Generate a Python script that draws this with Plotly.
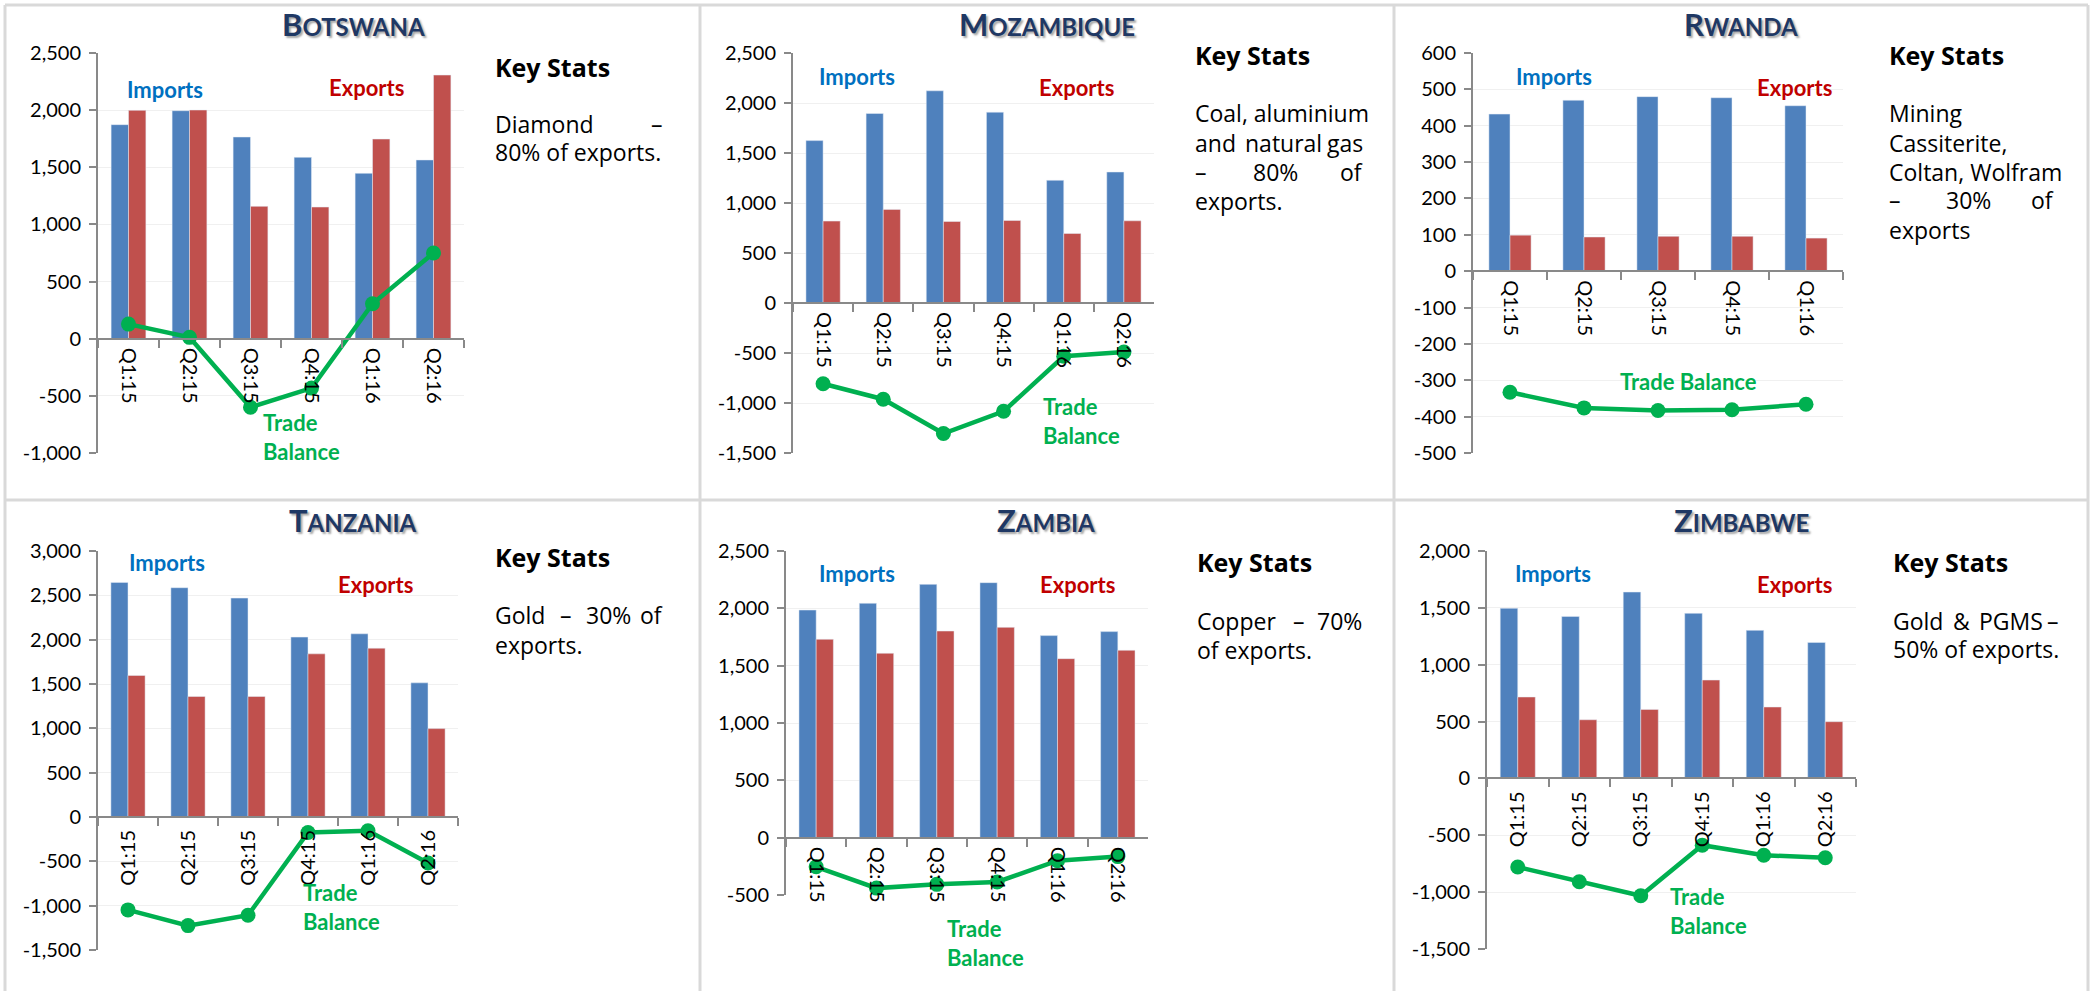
import plotly.graph_objects as go

W, H = 2098, 991

# ---------------- data ----------------
quarters6 = ["Q1:15", "Q2:15", "Q3:15", "Q4:15", "Q1:16", "Q2:16"]
quarters5 = ["Q1:15", "Q2:15", "Q3:15", "Q4:15", "Q1:16"]

botswana_imports = [1873, 1995, 1765, 1587, 1447, 1564]
botswana_exports = [1998, 2001, 1158, 1152, 1747, 2307]
botswana_balance = [128, 12, -600, -432, 306, 750]

mozambique_imports = [1624, 1895, 2122, 1908, 1227, 1310]
mozambique_exports = [819, 936, 815, 825, 695, 822]
mozambique_balance = [-807, -962, -1305, -1083, -533, -490]

rwanda_imports = [432, 470, 480, 477, 455]
rwanda_exports = [99, 94, 96, 96, 91]
rwanda_balance = [-333, -376, -383, -381, -366]

tanzania_imports = [2646, 2586, 2469, 2029, 2066, 1513]
tanzania_exports = [1596, 1359, 1359, 1840, 1904, 997]
tanzania_balance = [-1048, -1225, -1108, -175, -155, -518]

zambia_imports = [1985, 2044, 2209, 2224, 1762, 1797]
zambia_exports = [1730, 1608, 1802, 1834, 1561, 1634]
zambia_balance = [-254, -440, -407, -386, -201, -165]

zimbabwe_imports = [1496, 1425, 1639, 1452, 1302, 1196]
zimbabwe_exports = [716, 516, 607, 865, 628, 499]
zimbabwe_balance = [-779, -909, -1032, -587, -675, -698]

y_ticks_botswana = [-1000, -500, 0, 500, 1000, 1500, 2000, 2500]
y_ticks_mozambique = [-1500, -1000, -500, 0, 500, 1000, 1500, 2000, 2500]
y_ticks_rwanda = [-500, -400, -300, -200, -100, 0, 100, 200, 300, 400, 500, 600]
y_ticks_tanzania = [-1500, -1000, -500, 0, 500, 1000, 1500, 2000, 2500, 3000]
y_ticks_zambia = [-500, 0, 500, 1000, 1500, 2000, 2500]
y_ticks_zimbabwe = [-1500, -1000, -500, 0, 500, 1000, 1500, 2000]

titles = ["Botswana", "Mozambique", "Rwanda", "Tanzania", "Zambia", "Zimbabwe"]
key_texts = [
    [("Diamond –", True), ("80% of exports.", False)],
    [("Coal, aluminium", True), ("and natural gas", True), ("– 80% of", True), ("exports.", False)],
    [("Mining", False), ("Cassiterite,", False), ("Coltan, Wolfram", True), ("– 30% of", True), ("exports", False)],
    [("Gold – 30% of", True), ("exports.", False)],
    [("Copper – 70%", True), ("of exports.", False)],
    [("Gold & PGMS –", True), ("50% of exports.", False)],
]

panels_data = [
    (quarters6, botswana_imports, botswana_exports, botswana_balance, y_ticks_botswana),
    (quarters6, mozambique_imports, mozambique_exports, mozambique_balance, y_ticks_mozambique),
    (quarters5, rwanda_imports, rwanda_exports, rwanda_balance, y_ticks_rwanda),
    (quarters6, tanzania_imports, tanzania_exports, tanzania_balance, y_ticks_tanzania),
    (quarters6, zambia_imports, zambia_exports, zambia_balance, y_ticks_zambia),
    (quarters6, zimbabwe_imports, zimbabwe_exports, zimbabwe_balance, y_ticks_zimbabwe),
]

# ---------------- layout geometry (pixels) ----------------
layout_cfg = [
    dict(box=(98, 53, 464, 453), angle=90, title=(353, 24),
         imp=(125, 90), exp=(327, 88), tb=(261, 437), tb2=True,
         ks=(493, 67), body=(493, 665, [124, 152])),
    dict(box=(793, 53, 1154, 453), angle=90, title=(1047, 24),
         imp=(817, 76), exp=(1037, 88), tb=(1041, 421), tb2=True,
         ks=(1193, 55), body=(1193, 1365, [113, 143, 172, 201])),
    dict(box=(1473, 53, 1843, 453), angle=90, title=(1741, 24),
         imp=(1514, 76), exp=(1755, 88), tb=(1618, 381), tb2=False,
         ks=(1887, 55), body=(1887, 2056, [113, 143, 172, 200, 230])),
    dict(box=(98, 551, 458, 950), angle=-90, title=(353, 520),
         imp=(127, 562), exp=(336, 584), tb=(301, 907), tb2=True,
         ks=(493, 557), body=(493, 665, [615, 645])),
    dict(box=(786, 551, 1148, 895), angle=90, title=(1046, 520),
         imp=(817, 573), exp=(1038, 584), tb=(945, 943), tb2=True,
         ks=(1195, 562), body=(1195, 1364, [621, 650])),
    dict(box=(1487, 551, 1856, 949), angle=-90, title=(1741, 520),
         imp=(1513, 573), exp=(1755, 584), tb=(1668, 911), tb2=True,
         ks=(1891, 562), body=(1891, 2061, [621, 649])),
]

BLUE = "#4F81BD"
RED = "#C0504D"
GREEN = "#00B050"
AXIS = "#898989"
TICK_FONT = dict(family="Lato, Carlito, Calibri, sans-serif", size=20, color="#000000")
LABEL_FAMILY = "Lato, Carlito, Calibri, sans-serif"
BODY_FAMILY = "Open Sans, Tahoma, sans-serif"


def px(x):
    return x / W


def py(y):
    return 1 - y / H


# approximate Open Sans advance widths (em) for justification
CW = {' ': .26, '–': .5, '%': .82, ',': .245, '.': .266, '&': .725, 'i': .253, 'l': .253,
      'f': .339, 't': .353, 'r': .408, 'm': .93, 'w': .788, 'W': .93, 'M': .885, 'I': .286,
      's': .477, 'c': .476, 'e': .561, 'a': .556, 'o': .604, 'n': .614, 'u': .614, 'g': .548,
      'x': .513, 'p': .613, 'd': .613, 'b': .613, 'h': .614, 'y': .504, 'v': .5, 'k': .52,
      'C': .631, 'G': .728, 'P': .604, 'S': .536, 'D': .722, 'O': .78}


def text_w(s, size):
    tot = 0
    for ch in s:
        if ch in CW:
            tot += CW[ch]
        elif ch.isdigit():
            tot += .572
        elif ch.isupper():
            tot += .65
        else:
            tot += .56
    return tot * size


fig = go.Figure()
annotations = []
BODY_SIZE = 23

for i, ((cats, imp, exp, bal, yt), cfg) in enumerate(zip(panels_data, layout_cfg)):
    n = i + 1
    xa = "x" if n == 1 else f"x{n}"
    ya = "y" if n == 1 else f"y{n}"
    fig.add_trace(go.Bar(x=cats, y=imp, marker_color=BLUE, name="Imports",
                         xaxis=xa, yaxis=ya, showlegend=False))
    fig.add_trace(go.Bar(x=cats, y=exp, marker_color=RED, name="Exports",
                         xaxis=xa, yaxis=ya, showlegend=False))
    fig.add_trace(go.Scatter(x=cats, y=bal, mode="lines+markers", name="Trade Balance",
                             line=dict(color=GREEN, width=4.5),
                             marker=dict(color=GREEN, size=15),
                             xaxis=xa, yaxis=ya, showlegend=False, cliponaxis=False))

    x0, y0, x1, y1 = cfg["box"]
    ymin, ymax = yt[0], yt[-1]
    dom_y = [py(y1), py(y0)]
    zero_pos = dom_y[0] + (0 - ymin) / (ymax - ymin) * (dom_y[1] - dom_y[0])
    xkey = "xaxis" if n == 1 else f"xaxis{n}"
    ykey = "yaxis" if n == 1 else f"yaxis{n}"
    fig.layout[xkey] = dict(
        domain=[px(x0), px(x1)], anchor="free", position=zero_pos,
        type="category", range=[-0.5, len(cats) - 0.5], automargin=False,
        showline=True, linecolor=AXIS, linewidth=2,
        ticks="outside", tickson="boundaries", ticklen=8, tickwidth=2, tickcolor=AXIS,
        tickangle=cfg["angle"], tickfont=TICK_FONT, showgrid=False, zeroline=False,
        fixedrange=True, ticklabelstandoff=4,
    )
    fig.layout[ykey] = dict(
        domain=dom_y, anchor=xa, range=[ymin, ymax], automargin=False,
        tickvals=yt, ticktext=[f"{v:,}" for v in yt],
        showline=True, linecolor=AXIS, linewidth=2,
        ticks="outside", ticklen=7, tickwidth=2, tickcolor=AXIS,
        tickfont=TICK_FONT, showgrid=True, gridcolor="#F0F0F0", gridwidth=1,
        zeroline=False, fixedrange=True, ticklabelstandoff=4,
    )

    # title (small caps)
    t = titles[i]
    ttxt = f"{t[0].upper()}<span style='font-size:24px'>{t[1:].upper()}</span>"
    annotations.append(dict(
        x=px(cfg["title"][0]), y=py(cfg["title"][1]), xref="paper", yref="paper",
        text=ttxt, showarrow=False, xanchor="center", yanchor="middle",
        font=dict(family=LABEL_FAMILY, size=31, color="#1F3864",
                  weight="bold", shadow="2px 2px 2px rgba(0,0,0,0.35)"),
    ))
    # series labels
    annotations.append(dict(
        x=px(cfg["imp"][0]), y=py(cfg["imp"][1]), xref="paper", yref="paper",
        text="<b>Imports</b>", showarrow=False, xanchor="left", yanchor="middle",
        font=dict(family=LABEL_FAMILY, size=22, color="#0070C0"),
    ))
    annotations.append(dict(
        x=px(cfg["exp"][0]), y=py(cfg["exp"][1]), xref="paper", yref="paper",
        text="<b>Exports</b>", showarrow=False, xanchor="left", yanchor="middle",
        font=dict(family=LABEL_FAMILY, size=22, color="#C00000"),
    ))
    tbtext = "<b>Trade<br>Balance</b>" if cfg["tb2"] else "<b>Trade Balance</b>"
    annotations.append(dict(
        x=px(cfg["tb"][0]), y=py(cfg["tb"][1]), xref="paper", yref="paper",
        text=tbtext, showarrow=False, xanchor="left", yanchor="middle", align="left",
        font=dict(family=LABEL_FAMILY, size=22, color=GREEN),
    ))
    # Key stats
    annotations.append(dict(
        x=px(cfg["ks"][0]), y=py(cfg["ks"][1]), xref="paper", yref="paper",
        text="<b>Key Stats</b>", showarrow=False, xanchor="left", yanchor="middle",
        font=dict(family=BODY_FAMILY, size=25, color="#000000"),
    ))
    bx0, bx1, bys = cfg["body"]
    for (line, just), ly in zip(key_texts[i], bys):
        words = line.split(" ")
        widths = [text_w(w, BODY_SIZE) for w in words]
        gap = (bx1 - bx0 - sum(widths)) / max(len(words) - 1, 1)
        if just and len(words) > 1 and gap > CW[' '] * BODY_SIZE * 1.3:
            cx = bx0
            for k, (wd, ww) in enumerate(zip(words, widths)):
                if k == len(words) - 1:
                    annotations.append(dict(
                        x=px(bx1), y=py(ly), xref="paper", yref="paper", text=wd,
                        showarrow=False, xanchor="right", yanchor="middle",
                        font=dict(family=BODY_FAMILY, size=BODY_SIZE, color="#000000")))
                else:
                    annotations.append(dict(
                        x=px(cx), y=py(ly), xref="paper", yref="paper", text=wd,
                        showarrow=False, xanchor="left", yanchor="middle",
                        font=dict(family=BODY_FAMILY, size=BODY_SIZE, color="#000000")))
                cx += ww + gap
        else:
            annotations.append(dict(
                x=px(bx0), y=py(ly), xref="paper", yref="paper", text=line,
                showarrow=False, xanchor="left", yanchor="middle",
                font=dict(family=BODY_FAMILY, size=BODY_SIZE, color="#000000")))

# panel borders
BORDER = "#D9D9D9"
shapes = []
for (ax0, ay0, ax1, ay1) in [(5, 5, 2088, 5), (5, 5, 5, 991), (700, 5, 700, 991),
                             (1394, 5, 1394, 991), (2088, 5, 2088, 991), (5, 500, 2088, 500)]:
    shapes.append(dict(type="line", xref="paper", yref="paper",
                       x0=px(ax0), x1=px(ax1), y0=py(ay0), y1=py(ay1),
                       line=dict(color=BORDER, width=3)))

fig.update_layout(
    width=W, height=H, margin=dict(l=0, r=0, t=0, b=0, autoexpand=False),
    paper_bgcolor="white", plot_bgcolor="white",
    barmode="group", bargap=0.43, bargroupgap=0,
    annotations=annotations, shapes=shapes, showlegend=False,
)

fig.write_html("out.html")
